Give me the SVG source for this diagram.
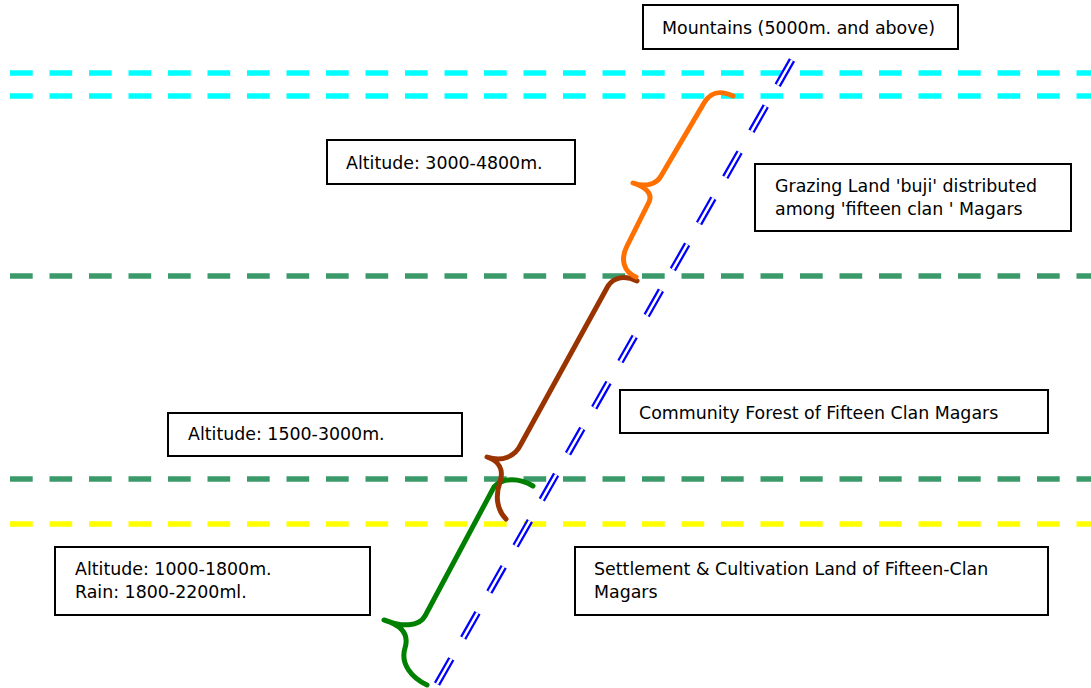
<svg xmlns="http://www.w3.org/2000/svg" width="1091" height="688" viewBox="0 0 1091 688">
<style>
.hl{fill:none;stroke-width:5.5;stroke-dasharray:22.7 16.8}
.br{fill:none;stroke-width:5;stroke-linecap:round;stroke-linejoin:round}
.box rect{fill:#fff;stroke:#000;stroke-width:2}
.box text{font-family:"DejaVu Sans",Verdana,sans-serif;font-size:17.4px;fill:#000}
</style>
<rect width="1091" height="688" fill="#fff"/>
<g id="levels">
<line class="hl" x1="10" y1="73" x2="1091" y2="73" stroke="#00FFFF"/>
<line class="hl" x1="10" y1="96" x2="1091" y2="96" stroke="#00FFFF"/>
<line class="hl" x1="10" y1="276" x2="1091" y2="276" stroke="#3A9A6A"/>
<line class="hl" x1="10" y1="479" x2="1091" y2="479" stroke="#3A9A6A"/>
<line class="hl" x1="10" y1="524" x2="1091" y2="524" stroke="#FFFF00"/>
</g>
<g id="connectors">
<g id="slope">
<path d="M792,60 L437,684" fill="none" stroke="#0000FF" stroke-width="7" stroke-dasharray="29 24"/>
<path d="M792,60 L437,684" fill="none" stroke="#fff" stroke-width="2.5" stroke-dasharray="29 24"/>
</g>
<path id="brace-green" class="br" stroke="#008000" d="M533,486 C520,478 503,477 494,487 L425,616 C419,627 402,627 384,620 C398,624 410,632 405,648 C400,664 412,678 427,685"/>
<path id="brace-brown" class="br" stroke="#993300" d="M637,281 C625,275 614,277 608,286 L521,444 C515,457 502,462 487,457 C499,461 504,470 500,482 C495,496 497,510 506,519"/>
<path id="brace-orange" class="br" stroke="#FF7000" d="M733,96 C718,89 710,93 704,103 L661,176 C656,185 645,187 633,183 C645,187 653,193 649,202 L627,246 C620,260 624,272 636,277"/>
</g>
<g id="mountains" class="box"><rect x="643" y="5" width="315" height="44"/><text x="662" y="34">Mountains (5000m. and above)</text></g>
<g id="alt-3000" class="box"><rect x="327" y="140" width="248" height="44"/><text x="346" y="168.5">Altitude: 3000-4800m.</text></g>
<g id="grazing" class="box"><rect x="755" y="164" width="316" height="67"/><text x="775" y="191.5">Grazing Land 'buji' distributed</text><text x="775" y="215">among 'fifteen clan ' Magars</text></g>
<g id="forest" class="box"><rect x="620" y="390" width="428" height="43"/><text x="639" y="418.5">Community Forest of Fifteen Clan Magars</text></g>
<g id="alt-1500" class="box"><rect x="168" y="413" width="294" height="43"/><text x="188" y="440">Altitude: 1500-3000m.</text></g>
<g id="alt-1000" class="box"><rect x="55" y="547" width="315" height="68"/><text x="75" y="574.5">Altitude: 1000-1800m.</text><text x="75" y="598">Rain: 1800-2200ml.</text></g>
<g id="settlement" class="box"><rect x="575" y="547" width="473" height="68"/><text x="594" y="574.5">Settlement &amp; Cultivation Land of Fifteen-Clan</text><text x="594" y="598">Magars</text></g>
</svg>
